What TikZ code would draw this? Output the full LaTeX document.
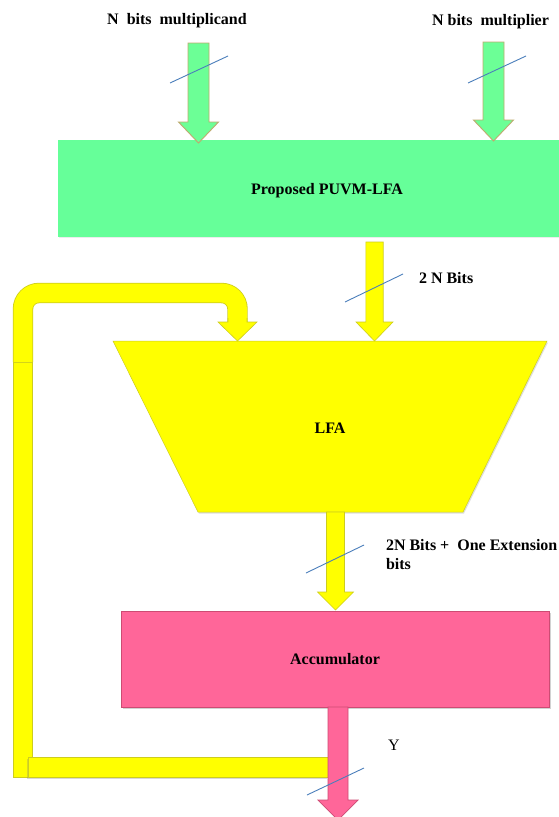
\documentclass[tikz,border=0pt]{standalone}
\usepackage{fontspec}
\setmainfont{Liberation Serif}
\usetikzlibrary{calc,shadows}
\definecolor{gfill}{RGB}{102,255,153}
\definecolor{garrowfill}{RGB}{108,255,150}
\definecolor{gline}{RGB}{190,170,110}
\definecolor{yfill}{RGB}{255,255,0}
\definecolor{yline}{RGB}{205,205,30}
\definecolor{pfill}{RGB}{255,102,153}
\definecolor{pline}{RGB}{205,75,115}
\definecolor{slashc}{RGB}{74,126,187}
\newcommand\fatdown[6]{%
  \path[#1] let \p1=(#2), \p2=(#3) in
    (\x1-#4,\y1) -- (\x1-#4,\y2+#6) -- (\x1-#5,\y2+#6) -- (\x1,\y2)
    -- (\x1+#5,\y2+#6) -- (\x1+#4,\y2+#6) -- (\x1+#4,\y1) -- cycle;}
\tikzset{
  lbl/.style={font=\fontsize{16}{19}\selectfont\bfseries, inner sep=0pt, outer sep=0pt},
  gbox/.style={lbl, fill=gfill, draw=none, text depth=0pt,
    drop shadow={shadow xshift=0.8pt, shadow yshift=-1.2pt, opacity=0.15}},
  pbox/.style={lbl, fill=pfill, draw=pline, line width=0.6pt, text depth=0pt,
    drop shadow={shadow xshift=1.5pt, shadow yshift=-1.8pt, opacity=0.35}},
  garrow/.style={fill=garrowfill, draw=gline, line width=0.9pt},
  yarrow/.style={fill=yfill, draw=yline, line width=0.6pt},
  parrow/.style={fill=pfill, draw=pline, line width=0.7pt},
  ybar/.style={fill=yfill, draw=yline, line width=0.7pt},
  ytube/.style={draw=yline, line width=20.4pt, rounded corners=16pt,
    postaction={draw=yfill, line width=18.8pt}},
  lfashape/.style={fill=yfill, draw=yline, line width=0.5pt,
    drop shadow={shadow xshift=1pt, shadow yshift=-1.5pt, opacity=0.25}},
  slashline/.style={draw=slashc, line width=0.9pt},
}
\begin{document}
\begin{tikzpicture}[x=1pt,y=-1pt]
\useasboundingbox[fill=white] (0,0) rectangle (559,817);

% blocks
\node[gbox, minimum width=538pt, minimum height=97pt] (puvm) at (327,188.5) {Proposed PUVM-LFA};
\path[lfashape] (113,341) -- (547,341) -- (463,512) -- (198,512) -- cycle;
\coordinate (lfatop) at (330,341);
\coordinate (lfabot) at (330,512);
\node[lbl] (lfa) at (330,428) {LFA};
\node[pbox, minimum width=428pt, minimum height=96pt] (acc) at (335,659) {Accumulator};

% input labels
\node[lbl, anchor=base] (in1) at (177,24) {N\ \ bits\ \ multiplicand};
\node[lbl, anchor=base] (in2) at (490.5,25) {N bits\ \ multiplier};

% input arrows
\coordinate (a1s) at (198.5,43);
\coordinate (a2s) at (493.5,42);
\coordinate (a1t) at ($(a1s |- puvm.north)+(0,3)$);
\coordinate (a2t) at ($(a2s |- puvm.north)+(0,1)$);
\fatdown{garrow}{a1s}{a1t}{10.5pt}{20pt}{21pt}
\fatdown{garrow}{a2s}{a2t}{10.5pt}{20pt}{21pt}

% PUVM -> LFA
\coordinate (m1s) at ($(374.5,0 |- puvm.south)+(0,5)$);
\coordinate (m1t) at (m1s |- lfatop);
\fatdown{yarrow}{m1s}{m1t}{8.7pt}{18.5pt}{19pt}

% feedback loop
\coordinate (fbjoin) at (23,362);
\coordinate (fbcorner1) at (23,293);
\coordinate (fbcorner2) at (237.5,293);
\coordinate (fbend) at (237.5,322);
\coordinate (fbtip) at (fbend |- lfatop);
\path[ybar] (13.5,362) rectangle (32.5,777);
\path[ybar, drop shadow={shadow xshift=-1pt, shadow yshift=-1.5pt, opacity=0.3}] (28,757) rectangle (328,777);
\path[ytube] (fbjoin) -- (fbcorner1) -- (fbcorner2) -- (fbend);
\path[yarrow] (228,318) -- (228,322) -- (218,322) -- (fbtip) -- (257,322) -- (247,322) -- (247,318);

% LFA -> Accumulator
\coordinate (m2s) at (335.5,0 |- lfabot);
\coordinate (m2t) at ($(m2s |- acc.north)+(0,-1)$);
\fatdown{yarrow}{m2s}{m2t}{9pt}{18pt}{18pt}

% output
\coordinate (outs) at (338,0 |- acc.south);
\coordinate (outt) at (338,820);
\fatdown{parrow}{outs}{outt}{10pt}{20pt}{20pt}

% bus-width labels
\node[lbl, anchor=base west] (l2n) at (419,283) {2 N Bits};
\node[lbl, anchor=north west, align=left] (lext) at (386,539) {2N Bits +\ \ One Extension\\bits};
\node[lbl, font=\fontsize{16}{19}\selectfont\mdseries, anchor=base] (ly) at (394,750) {Y};

% slash marks
\draw[slashline] (170,83) -- (228,56);
\draw[slashline] (468,83) -- (526,56);
\draw[slashline] (345,302) -- (403,274);
\draw[slashline] (306,573) -- (364,545);
\draw[slashline] (307,795) -- (364,768);
\end{tikzpicture}
\end{document}
